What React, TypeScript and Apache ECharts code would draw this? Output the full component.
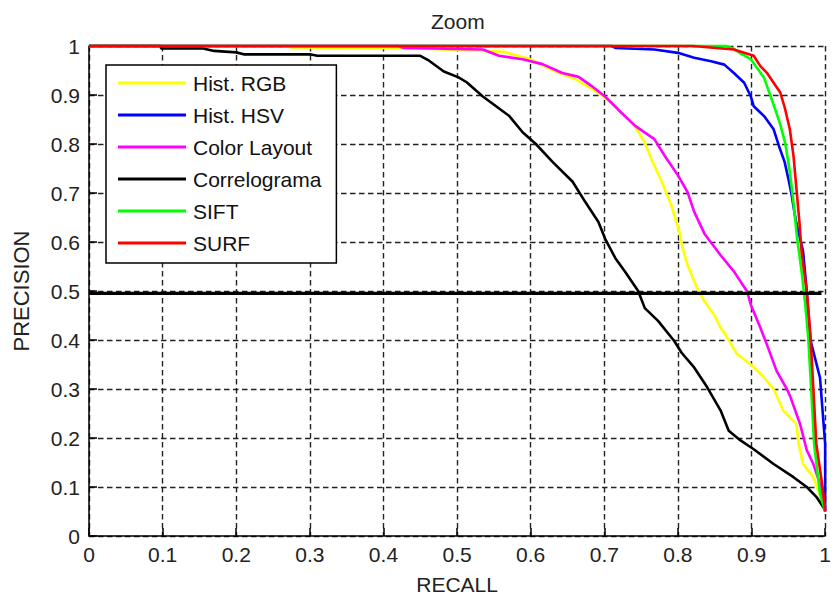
import React, { useEffect, useRef } from "react";
import * as echarts from "echarts";

// [recall, precision] pairs
const histRGB: [number, number][] = [
  [0, 1], [0.27, 1], [0.275, 0.997], [0.45, 0.995], [0.5, 0.992], [0.535, 0.99], [0.563, 0.988],
  [0.598, 0.974], [0.634, 0.948], [0.661, 0.932], [0.684, 0.912], [0.701, 0.895], [0.715, 0.877],
  [0.728, 0.857], [0.742, 0.835], [0.755, 0.803], [0.764, 0.769], [0.778, 0.723], [0.791, 0.675],
  [0.802, 0.621], [0.806, 0.59], [0.813, 0.553], [0.826, 0.506], [0.836, 0.479], [0.849, 0.452],
  [0.858, 0.425], [0.867, 0.405], [0.88, 0.372], [0.899, 0.35], [0.916, 0.325], [0.93, 0.3],
  [0.943, 0.256], [0.961, 0.228], [0.964, 0.188], [0.97, 0.147], [0.984, 0.12], [0.997, 0.066], [1, 0.05],
];

const histHSV: [number, number][] = [
  [0, 1], [0.71, 1], [0.715, 0.996], [0.768, 0.993], [0.8, 0.986], [0.822, 0.976], [0.845, 0.969],
  [0.863, 0.962], [0.876, 0.945], [0.89, 0.925], [0.899, 0.897], [0.903, 0.877], [0.917, 0.857],
  [0.93, 0.83], [0.937, 0.797], [0.945, 0.763], [0.95, 0.729], [0.954, 0.7], [0.96, 0.645],
  [0.97, 0.581], [0.975, 0.5], [0.98, 0.4], [0.993, 0.323], [1, 0.188], [1, 0.05],
];

const colorLayout: [number, number][] = [
  [0, 1], [0.42, 1], [0.428, 0.996], [0.535, 0.993], [0.557, 0.98], [0.589, 0.973], [0.616, 0.963],
  [0.643, 0.945], [0.665, 0.937], [0.684, 0.917], [0.701, 0.897], [0.719, 0.87], [0.742, 0.837],
  [0.768, 0.81], [0.782, 0.776], [0.8, 0.736], [0.813, 0.702], [0.822, 0.662], [0.836, 0.617],
  [0.858, 0.573], [0.876, 0.54], [0.894, 0.499], [0.899, 0.472], [0.912, 0.425], [0.921, 0.39],
  [0.934, 0.337], [0.948, 0.3], [0.953, 0.283], [0.966, 0.228], [0.975, 0.175], [0.984, 0.147],
  [0.993, 0.106], [1, 0.053],
];

const correlograma: [number, number][] = [
  [0, 1], [0.097, 1], [0.098, 0.995], [0.155, 0.995], [0.17, 0.99], [0.2, 0.987], [0.21, 0.983],
  [0.3, 0.983], [0.31, 0.98], [0.45, 0.98], [0.462, 0.97], [0.482, 0.948], [0.502, 0.936],
  [0.513, 0.926], [0.535, 0.897], [0.553, 0.877], [0.571, 0.857], [0.589, 0.824], [0.607, 0.8],
  [0.63, 0.763], [0.657, 0.723], [0.674, 0.682], [0.692, 0.641], [0.701, 0.607], [0.715, 0.567],
  [0.728, 0.54], [0.746, 0.5], [0.755, 0.465], [0.773, 0.439], [0.795, 0.398], [0.805, 0.374],
  [0.822, 0.344], [0.84, 0.303], [0.858, 0.256], [0.869, 0.215], [0.885, 0.195], [0.903, 0.177],
  [0.93, 0.147], [0.957, 0.12], [0.975, 0.1], [0.988, 0.08], [1, 0.053],
];

const sift: [number, number][] = [
  [0, 1], [0.865, 1], [0.875, 0.995], [0.885, 0.985], [0.899, 0.973], [0.917, 0.935], [0.93, 0.88],
  [0.939, 0.84], [0.946, 0.8], [0.952, 0.743], [0.957, 0.68], [0.962, 0.607], [0.968, 0.54],
  [0.973, 0.472], [0.977, 0.405], [0.981, 0.3], [0.985, 0.188], [0.993, 0.086], [1, 0.05],
];

const surf: [number, number][] = [
  [0, 1], [0.82, 1], [0.876, 0.993], [0.903, 0.98], [0.912, 0.959], [0.921, 0.945], [0.93, 0.925],
  [0.939, 0.905], [0.945, 0.875], [0.952, 0.83], [0.957, 0.776], [0.961, 0.709], [0.965, 0.641],
  [0.968, 0.58], [0.975, 0.5], [0.98, 0.41], [0.984, 0.3], [0.988, 0.188], [0.997, 0.094], [1, 0.05],
];

const threshold: [number, number][] = [[0, 0.495], [0.995, 0.495]];

const seriesNames = ["Hist. RGB", "Hist. HSV", "Color Layout", "Correlograma", "SIFT", "SURF"];
const seriesColors = ["#ffff00", "#0000ff", "#ff00ff", "#000000", "#00ff00", "#ff0000"];
const seriesData = [histRGB, histHSV, colorLayout, correlograma, sift, surf];

const FONT = "'Liberation Sans', Arial, sans-serif";

export default function App() {
  const ref = useRef<HTMLDivElement>(null);
  useEffect(() => {
    document.body.style.margin = "0";
    const chart = echarts.init(ref.current!, null, { renderer: "svg", width: 834, height: 600 });
    const dashed = { type: [5.5, 3.5] as any, color: "#222", width: 1.4 };
    chart.setOption({
      animation: false,
      backgroundColor: "#ffffff",
      textStyle: { fontFamily: FONT },
      title: {
        text: "Zoom",
        left: 431,
        top: 11,
        padding: 0,
        textStyle: { fontSize: 21, fontWeight: "normal", color: "#222", fontFamily: FONT },
      },
      grid: { left: 89, right: 2, top: 46, bottom: 61, containLabel: false },
      legend: {
        data: seriesNames,
        orient: "vertical",
        left: 106,
        top: 65,
        padding: [7, 15, 9, 12],
        itemGap: 10,
        itemWidth: 68,
        itemHeight: 3,
        icon: "rect",
        backgroundColor: "#ffffff",
        borderColor: "#000",
        borderWidth: 1.5,
        borderRadius: 0,
        selectedMode: false,
        textStyle: { fontSize: 21, color: "#111", lineHeight: 22, fontFamily: FONT, padding: [0, 0, 0, 2] },
      },
      xAxis: {
        type: "value",
        min: 0,
        max: 1,
        interval: 0.1,
        name: "RECALL",
        nameLocation: "middle",
        nameGap: 38,
        nameTextStyle: { fontSize: 21, color: "#222", fontFamily: FONT },
        axisLine: { lineStyle: { color: "#000", width: 1.5 } },
        axisTick: { inside: true, length: 8, lineStyle: { color: "#000", width: 1.5 } },
        axisLabel: {
          fontSize: 21,
          color: "#222",
          margin: 8,
          fontFamily: FONT,
          formatter: (v: number) => String(Math.round(v * 10) / 10),
        },
        splitLine: { show: true, lineStyle: dashed },
      },
      yAxis: {
        type: "value",
        min: 0,
        max: 1,
        interval: 0.1,
        name: "PRECISION",
        nameLocation: "middle",
        nameGap: 57,
        nameTextStyle: { fontSize: 22, color: "#222", fontFamily: FONT },
        axisLine: { show: true, lineStyle: { color: "#000", width: 1.5 } },
        axisTick: { show: true, inside: true, length: 8, lineStyle: { color: "#000", width: 1.5 } },
        axisLabel: {
          fontSize: 21,
          color: "#222",
          margin: 9,
          fontFamily: FONT,
          formatter: (v: number) => String(Math.round(v * 10) / 10),
        },
        splitLine: { show: true, lineStyle: dashed },
      },
      series: [
        ...seriesNames.map((name, i) => ({
          name,
          type: "line",
          data: seriesData[i],
          color: seriesColors[i],
          showSymbol: false,
          symbol: "none",
          lineStyle: { width: 2.6, color: seriesColors[i] },
          itemStyle: { color: seriesColors[i] },
          clip: false,
          z: 3 + i,
        })),
        {
          name: "threshold",
          type: "line",
          data: threshold,
          showSymbol: false,
          symbol: "none",
          silent: true,
          lineStyle: { width: 3.2, color: "#000" },
          z: 10,
        },
      ],
    });
    return () => chart.dispose();
  }, []);
  return <div ref={ref} style={{ position: "absolute", left: 0, top: 0, width: 834, height: 600 }} />;
}
